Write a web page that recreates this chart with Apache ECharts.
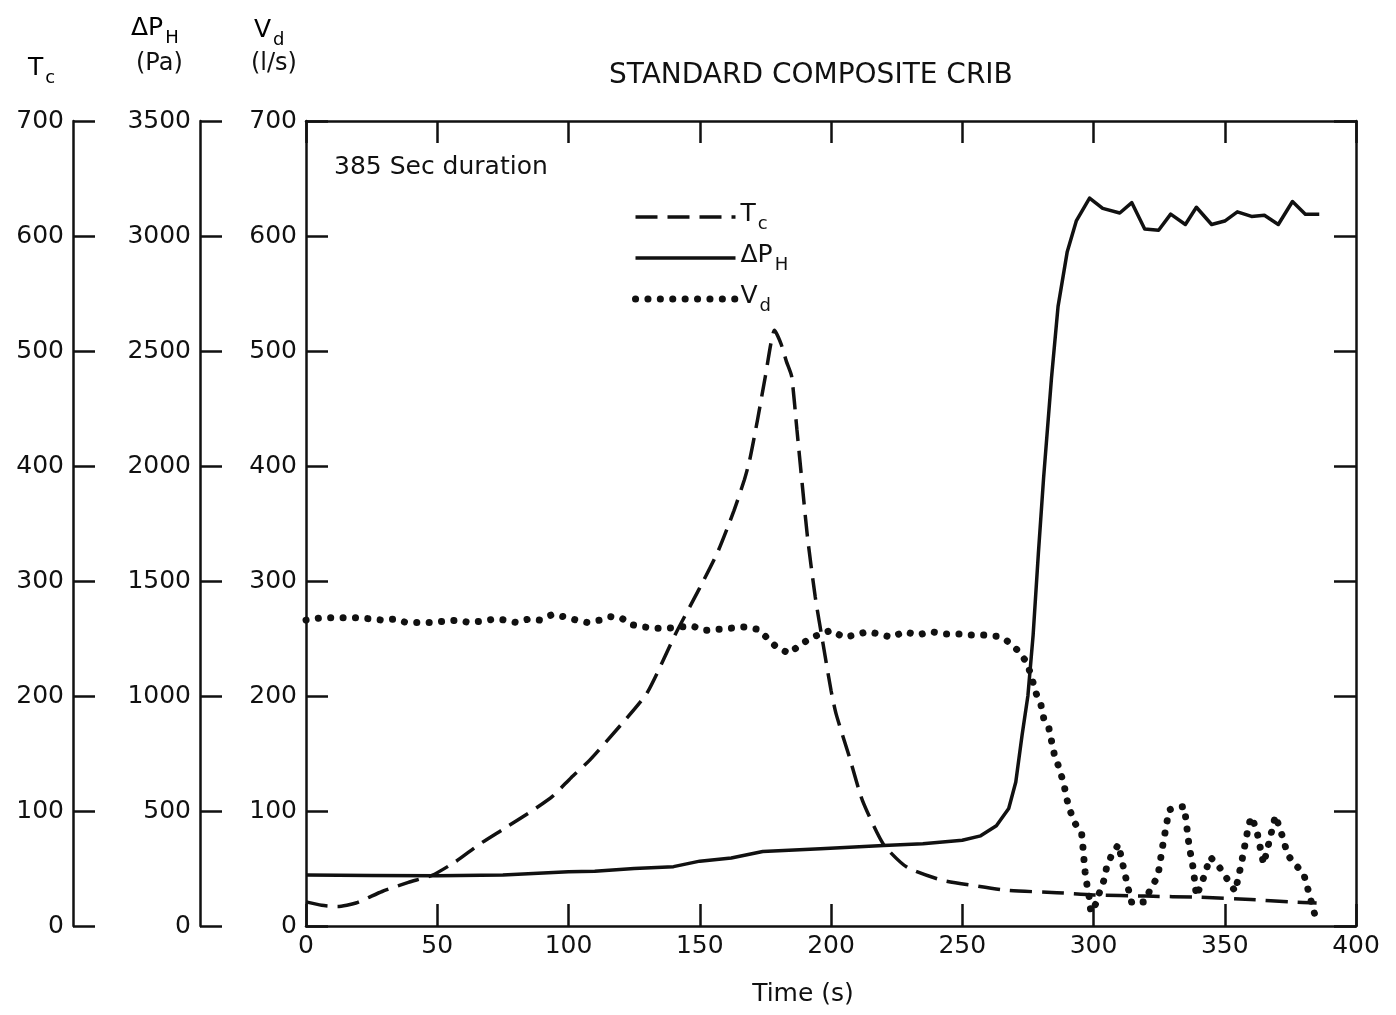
<!DOCTYPE html>
<html>
<head>
<meta charset="utf-8">
<script src="https://cdn.jsdelivr.net/npm/echarts@6/dist/echarts.min.js"></script>
<style>
  html, body { margin: 0; padding: 0; background: #fff; }
  #chart { width: 1396px; height: 1015px; }
</style>
</head>
<body>
<div id="chart"></div>
<script>
// Tc (left-most scale, 0-700)
const tcTime = [0, 6, 12, 19, 29, 39, 48, 57, 66, 75, 86, 94, 101, 108, 120, 130, 141, 150, 157, 163, 167, 169, 172, 175, 178.5, 181, 183, 185, 187, 189, 191, 194, 197, 200, 202, 207, 212, 220, 229, 242, 255, 267, 286, 300, 320, 340, 360, 375, 385]
const tcValues = [21, 18, 17, 20, 30, 38, 44, 56, 71, 84, 100, 113, 129, 144, 175, 203, 255, 294, 326, 361, 388, 405, 440, 478, 518, 506, 491, 478, 432, 385, 339, 286, 245, 205, 184, 147, 109, 71, 51, 40, 35, 31, 29, 27, 26, 25, 23, 21, 20]

// Delta P_H (Pa, 0-3500)
const dpTime = [0, 25, 50, 75, 100, 110, 125, 140, 150, 162, 174, 196, 220, 235, 250, 257, 263, 267.7, 270.4, 272.8, 275, 277, 279, 281, 284, 286.5, 290, 293.5, 298.5, 303.5, 310, 314.6, 319.5, 324.8, 329.4, 335, 339.2, 345, 350, 354.8, 360.2, 365.1, 370.4, 375.8, 380.7, 386]
const dpValues = [222, 220, 218, 222, 236, 238, 250, 258, 282, 296, 324, 336, 350, 358, 373, 392, 436, 511, 626, 830, 1000, 1265, 1620, 1950, 2383, 2694, 2932, 3067, 3165, 3120, 3100, 3145, 3030, 3025, 3095, 3050, 3125, 3050, 3065, 3105, 3085, 3090, 3050, 3150, 3095, 3095]

// Vd (l/s, 0-700)
const vdTime = [0, 6, 10, 15, 20, 25, 29, 34, 38, 43, 48, 53, 58, 62, 67, 72, 76, 80, 85, 89, 94, 98, 103, 107, 112, 116, 120, 124, 129, 133, 138, 147, 152, 157, 162, 167, 172, 176, 179, 184, 188, 192, 196, 200, 205, 209, 214, 218, 223, 228, 233, 238, 243, 249, 253, 258, 263, 267, 271, 274, 276, 278, 280, 281, 283, 284, 285, 286.5, 288, 289, 290, 291.3, 292.8, 295.5, 296, 296.4, 296.8, 297.5, 298.3, 299, 300.8, 302.4, 304, 305, 306.6, 309.5, 311.5, 313.5, 314.6, 319.6, 321.8, 324.5, 326.3, 328.8, 331.5, 334.6, 336.4, 338, 339.2, 341.5, 344.5, 348, 350.6, 354, 356.3, 358.9, 360, 362, 364.8, 367, 369.3, 372.4, 373.9, 377, 380, 382.4, 385]
const vdValues = [266, 268, 268, 268, 268, 267, 266, 267, 264, 264, 264, 265, 266, 264, 265, 267, 266, 264, 267, 266, 271, 269, 266, 264, 266, 269, 268, 262, 260, 259, 259, 261, 257, 258, 259, 260, 258, 250, 243, 237, 244, 250, 254, 257, 251, 253, 256, 254, 251, 256, 253, 256, 254, 254, 253, 253, 252, 248, 240, 231, 220, 203, 192, 181, 172, 161, 150, 140, 129, 120, 109, 99, 90, 80, 68, 57, 47, 36, 26, 12, 19, 30, 40, 51, 60, 71, 50, 30, 20, 21, 33, 43, 69, 101, 103, 104, 70, 50, 26, 39, 60, 51, 42, 30, 54, 85, 95, 85, 54, 74, 96, 75, 62, 53, 46, 26, 4]

const timeTicks = [0, 50, 100, 150, 200, 250, 300, 350, 400]

const FONT = '"DejaVu Sans", Verdana, sans-serif'
const INK = '#111'

const chart = echarts.init(document.getElementById('chart'))

const pairs = (xs, ys) => xs.map((x, i) => [x, ys[i]])

const sub = {
  m: { fontSize: 25, fontFamily: FONT, color: INK, verticalAlign: 'top', lineHeight: 30 },
  s: { fontSize: 18, fontFamily: FONT, color: INK, verticalAlign: 'top', lineHeight: 30, padding: [13, 0, 0, 2] }
}

const lineCol = { color: INK, width: 2.5 }

const baseY = (extra) => Object.assign({
  type: 'value',
  position: 'left',
  axisLine: { show: true, onZero: false, lineStyle: lineCol },
  axisTick: { show: true, inside: true, length: 22, lineStyle: lineCol },
  axisLabel: { color: INK, fontSize: 25, fontFamily: FONT, margin: 9, formatter: (v) => String(v) },
  splitLine: { show: false }
}, extra)

const option = {
  backgroundColor: '#fff',
  animation: false,
  title: {
    text: 'STANDARD COMPOSITE CRIB',
    left: 604,
    top: 57,
    textStyle: { color: INK, fontSize: 28, fontWeight: 'normal', fontFamily: FONT }
  },
  grid: { left: 306, right: 40, top: 121, bottom: 89 },
  legend: {
    orient: 'vertical',
    left: 627,
    top: 197,
    itemWidth: 100,
    itemHeight: 20,
    itemGap: 10,
    selectedMode: false,
    itemStyle: { opacity: 0 },
    data: [
      { name: 'Tc', lineStyle: { color: INK, width: 3.5, type: [22, 10] } },
      { name: 'dPH', lineStyle: { color: INK, width: 3.5 } },
      { name: 'Vd', lineStyle: { color: INK, width: 7, type: [0.1, 12.3], cap: 'round' } }
    ],
    formatter: (n) => ({ Tc: '{m|T}{s|c}', dPH: '{m|ΔP}{s|H}', Vd: '{m|V}{s|d}' })[n],
    textStyle: { rich: sub }
  },
  graphic: [
    { type: 'text', left: 28, top: 56, style: { text: '{m|T}{s|c}', rich: sub } },
    { type: 'text', left: 131, top: 16, style: { text: '{m|ΔP}{s|H}', rich: sub } },
    { type: 'text', left: 136, top: 52, style: { text: '(Pa)', fontSize: 24, fontFamily: FONT, fill: INK } },
    { type: 'text', left: 254, top: 18, style: { text: '{m|V}{s|d}', rich: sub } },
    { type: 'text', left: 251, top: 52, style: { text: '(l/s)', fontSize: 24, fontFamily: FONT, fill: INK } },
    { type: 'text', left: 334, top: 155, style: { text: '385 Sec duration', fontSize: 25, fontFamily: FONT, fill: INK } }
  ],
  xAxis: [
    {
      type: 'value', position: 'bottom', min: 0, max: 400, interval: 50,
      name: 'Time (s)', nameLocation: 'middle', nameGap: 56,
      nameTextStyle: { color: INK, fontSize: 25, fontFamily: FONT, padding: [0, 56, 0, 0] },
      axisLine: { show: true, onZero: false, lineStyle: lineCol },
      axisTick: { show: true, inside: true, length: 22, lineStyle: lineCol },
      axisLabel: { color: INK, fontSize: 25, fontFamily: FONT, margin: 8,
        formatter: (v) => timeTicks.includes(v) ? String(v) : '' },
      splitLine: { show: false }
    },
    {
      type: 'value', position: 'top', min: 0, max: 400, interval: 50,
      axisLine: { show: true, onZero: false, lineStyle: lineCol },
      axisTick: { show: true, inside: true, length: 22, lineStyle: lineCol },
      axisLabel: { show: false },
      splitLine: { show: false }
    }
  ],
  yAxis: [
    baseY({ min: 0, max: 700, interval: 100, offset: 233 }),
    baseY({ min: 0, max: 3500, interval: 500, offset: 106 }),
    baseY({ min: 0, max: 700, interval: 100, offset: 0 }),
    baseY({ min: 0, max: 700, interval: 100, position: 'right', axisLabel: { show: false } })
  ],
  series: [
    {
      name: 'Tc', type: 'line', xAxisIndex: 0, yAxisIndex: 0,
      data: pairs(tcTime, tcValues), smooth: 0.2, symbol: 'none',
      itemStyle: { color: INK },
      lineStyle: { color: INK, width: 3.5, type: [22, 10] }
    },
    {
      name: 'dPH', type: 'line', xAxisIndex: 0, yAxisIndex: 1,
      data: pairs(dpTime, dpValues), smooth: false, symbol: 'none',
      itemStyle: { color: INK },
      lineStyle: { color: INK, width: 3.5, join: 'round' }
    },
    {
      name: 'Vd', type: 'line', xAxisIndex: 0, yAxisIndex: 2,
      data: pairs(vdTime, vdValues), smooth: false, symbol: 'none',
      itemStyle: { color: INK },
      lineStyle: { color: INK, width: 7, type: [0.1, 12.3], cap: 'round' }
    }
  ]
}

chart.setOption(option)
</script>
</body>
</html>
